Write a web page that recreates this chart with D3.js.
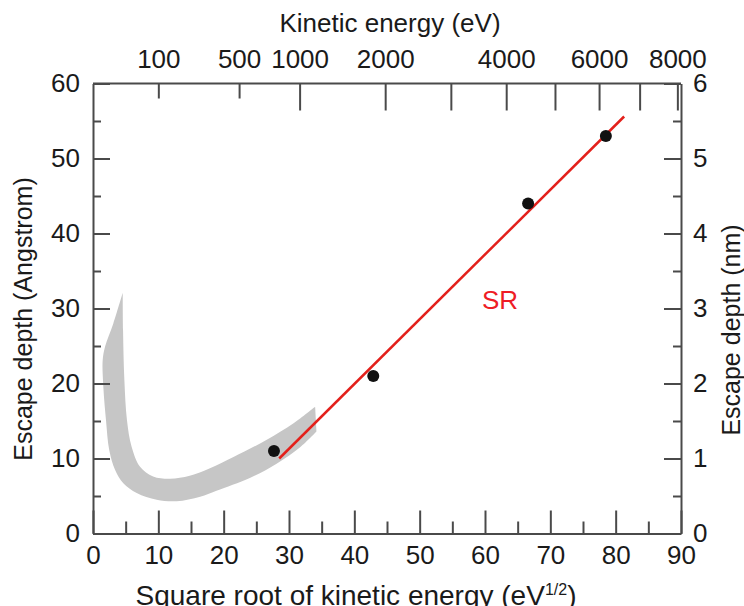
<!DOCTYPE html>
<html>
<head>
<meta charset="utf-8">
<script src="https://cdn.jsdelivr.net/npm/d3@7"></script>
<style>
  body { margin: 0; background: #fff; }
  svg text { font-family: "Liberation Sans", Arial, sans-serif; fill: #1a1a1a; }
</style>
</head>
<body>
<div id="chart"></div>
<script>
// measured points (sqrt eV, Angstrom)
const pointsX = [27.7, 42.9, 66.6, 78.5];
const pointsY = [11.0, 21.0, 44.0, 53.0];

// SR fit line ends
const lineX = [28.5, 81.3];
const lineY = [10.0, 55.6];

// gray universal curve band: outer (lower) edge from the top tip to the right end...
const bandLowX = [4.55, 3.11, 1.84, 1.48, 1.58, 1.99, 2.49, 3.37, 4.64, 6.69, 9.75, 12.8, 16.4, 18.9, 24.0, 28.1, 31.7, 34.2];
const bandLowY = [32.1, 28.0, 24.9, 23.1, 19.6, 15.1, 11.1, 8.5, 6.7, 5.4, 4.5, 4.3, 4.9, 5.7, 7.4, 9.3, 11.5, 13.6];
// ...and inner (upper) edge back to the tip
const bandUpX = [34.0, 30.7, 26.6, 21.5, 17.9, 14.8, 11.8, 9.2, 7.2, 5.9, 5.2, 4.8, 4.6, 4.55];
const bandUpY = [16.9, 14.7, 12.5, 10.2, 8.7, 7.7, 7.3, 7.6, 8.9, 11.6, 15.1, 20.5, 27.1, 32.1];

// tick values
const bottomMajor = [0, 10, 20, 30, 40, 50, 60, 70, 80, 90];
const bottomMinor = [5, 15, 25, 35, 45, 55, 65, 75, 85];
const leftMajor = [0, 10, 20, 30, 40, 50, 60];
const leftMinor = [5, 15, 25, 35, 45, 55];
const rightMajor = [0, 1, 2, 3, 4, 5, 6];
const rightMinor = [0.5, 1.5, 2.5, 3.5, 4.5, 5.5];
const topTicks = [100, 500, 1000, 2000, 3000, 4000, 5000, 6000, 7000, 8000];
const topLabels = [100, 500, 1000, 2000, 4000, 6000, 8000];
const topShort = [100, 500];

const W = 744, H = 606;
const L = 93, R = 681, T = 83.5, B = 533.5;
const axisColor = "#4a4a4a";
const fs = "26px";

const svg = d3.select("#chart").append("svg")
    .attr("width", W).attr("height", H);

const x = d3.scaleLinear().domain([0, 90]).range([L, R]);
const y = d3.scaleLinear().domain([0, 60]).range([B, T]);
const yNm = d3.scaleLinear().domain([0, 6]).range([B, T]);
const xTop = d3.scaleSqrt().domain([0, 8100]).range([L, R]);

// band, two smooth edges joined at the sharp ends
const edge = d3.line().x(d => x(d[0])).y(d => y(d[1])).curve(d3.curveCatmullRom.alpha(0.5));
const lowPath = edge(bandLowX.map((v, i) => [v, bandLowY[i]]));
const upPath = edge(bandUpX.map((v, i) => [v, bandUpY[i]]));
svg.append("path")
    .attr("d", lowPath + upPath.replace(/^M/, "L") + "Z")
    .attr("fill", "#c6c6c6");

// axes
function styleAxis(g) {
    g.selectAll("path.domain").attr("stroke", axisColor).attr("stroke-width", 2);
    g.selectAll(".tick line").attr("stroke", axisColor).attr("stroke-width", 2);
    g.selectAll("text").style("font-size", fs).attr("fill", "#1a1a1a");
}

svg.append("g").attr("transform", `translate(0,${B})`)
    .call(d3.axisBottom(x).tickValues(bottomMajor).tickSize(-23).tickSizeOuter(0).tickPadding(12))
    .call(styleAxis);
svg.append("g").attr("transform", `translate(0,${B})`)
    .call(d3.axisBottom(x).tickValues(bottomMinor).tickSize(-12).tickFormat(""))
    .call(styleAxis).select(".domain").remove();

svg.append("g").attr("transform", `translate(${L},0)`)
    .call(d3.axisLeft(y).tickValues(leftMajor).tickSize(-17).tickSizeOuter(0).tickPadding(13))
    .call(styleAxis);
svg.append("g").attr("transform", `translate(${L},0)`)
    .call(d3.axisLeft(y).tickValues(leftMinor).tickSize(-8).tickFormat(""))
    .call(styleAxis).select(".domain").remove();

svg.append("g").attr("transform", `translate(${R},0)`)
    .call(d3.axisRight(yNm).tickValues(rightMajor).tickSize(-17).tickSizeOuter(0).tickPadding(12)
        .tickFormat(d3.format("d")))
    .call(styleAxis);
svg.append("g").attr("transform", `translate(${R},0)`)
    .call(d3.axisRight(yNm).tickValues(rightMinor).tickSize(-8).tickFormat(""))
    .call(styleAxis).select(".domain").remove();

const gTop = svg.append("g").attr("transform", `translate(0,${T})`)
    .call(d3.axisTop(xTop).tickValues(topTicks).tickSizeOuter(0).tickSize(-27).tickPadding(16)
        .tickFormat(d => topLabels.includes(d) ? d : ""))
    .call(styleAxis);
gTop.selectAll(".tick line").attr("y2", d => topShort.includes(d) ? 15 : 27);
gTop.select(".domain").attr("d", `M${L},0H${R}`);

// fit line
svg.append("line")
    .attr("x1", x(lineX[0])).attr("y1", y(lineY[0]))
    .attr("x2", x(lineX[1])).attr("y2", y(lineY[1]))
    .attr("stroke", "#e3201b").attr("stroke-width", 2.5);

// points
svg.append("g").selectAll("circle")
    .data(pointsX.map((v, i) => [v, pointsY[i]]))
    .join("circle")
    .attr("cx", d => x(d[0])).attr("cy", d => y(d[1]))
    .attr("r", 6).attr("fill", "#111");

svg.append("text")
    .attr("x", 500).attr("y", 309)
    .attr("text-anchor", "middle")
    .style("font-size", fs).style("fill", "#ee1c25")
    .text("SR");

// titles
svg.append("text")
    .attr("x", 390).attr("y", 32)
    .attr("text-anchor", "middle")
    .style("font-size", fs)
    .text("Kinetic energy (eV)");

const bt = svg.append("text")
    .attr("x", 356).attr("y", 605)
    .attr("text-anchor", "middle")
    .style("font-size", "28px")
    .text("Square root of kinetic energy (eV");
bt.append("tspan").attr("dy", -10).style("font-size", "16px").text("1/2");
bt.append("tspan").attr("dy", 10).text(")");

svg.append("text")
    .attr("transform", "translate(32,319) rotate(-90)")
    .attr("text-anchor", "middle")
    .style("font-size", "25px")
    .text("Escape depth (Angstrom)");

svg.append("text")
    .attr("transform", "translate(740,330) rotate(-90)")
    .attr("text-anchor", "middle")
    .style("font-size", "25px")
    .text("Escape depth (nm)");
</script>
</body>
</html>
